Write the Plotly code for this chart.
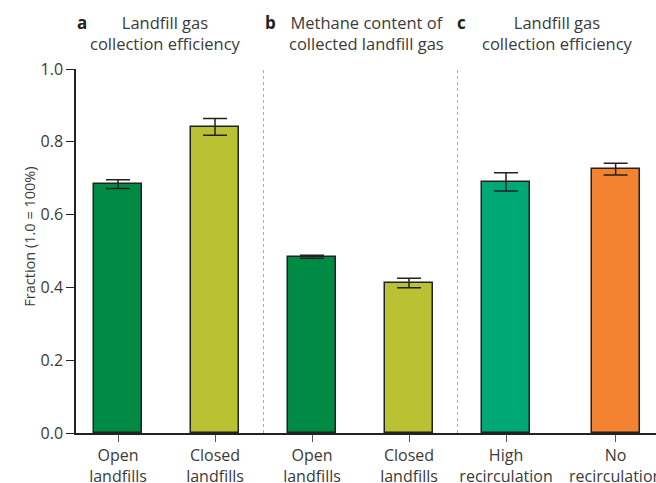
import plotly.graph_objects as go

# Data
categories = ["Open<br>landfills", "Closed<br>landfills", "Open<br>landfills",
              "Closed<br>landfills", "High<br>recirculation", "No<br>recirculation"]
values = [0.684, 0.841, 0.484, 0.412, 0.690, 0.725]
errors = [0.012, 0.023, 0.004, 0.013, 0.025, 0.016]
panel_letters = ["a", "b", "c"]
panel_titles = ["Landfill gas<br>collection efficiency",
                "Methane content of<br>collected landfill gas",
                "Landfill gas<br>collection efficiency"]
y_title = "Fraction (1.0 = 100%)"

# Layout (positions / styles)
xpos = [0, 1, 2, 3, 4, 5.13]
colors = ["#008A44", "#BAC132", "#008A44", "#BAC132", "#00A878", "#F38231"]
separators = [1.5, 3.5]
panel_centers = [0.155, 0.5, 0.831]   # paper coords
letter_x = [-0.002, 0.322, 0.653]     # paper coords

FONT = "Open Sans"
TXT = "#3a3a3a"

fig = go.Figure()
fig.add_trace(go.Bar(
    x=xpos, y=values, width=0.495,
    marker=dict(color=colors, line=dict(color="#222222", width=1.5)),
    error_y=dict(type="data", array=errors, visible=True, color="#222222",
                 thickness=1.5, width=12),
    showlegend=False, hoverinfo="skip",
))

for s in separators:
    fig.add_shape(type="line", x0=s, x1=s, y0=0, y1=1, xref="x", yref="y",
                  line=dict(color="#AAAAAA", width=1, dash="dot"))

for L, t, c, lx in zip(panel_letters, panel_titles, panel_centers, letter_x):
    fig.add_annotation(x=c, y=1.0, xref="paper", yref="paper", yshift=60,
                       text=t, showarrow=False, yanchor="top", xanchor="center",
                       font=dict(family=FONT, size=16.5, color=TXT))
    fig.add_annotation(x=lx, y=1.0, xref="paper", yref="paper", yshift=60,
                       text="<b>" + L + "</b>", showarrow=False, yanchor="top",
                       xanchor="left",
                       font=dict(family=FONT, size=17, color="#222222"))

fig.add_annotation(x=0, y=0.538, xref="paper", yref="paper", xshift=-58,
                   text=y_title, textangle=-90, showarrow=False,
                   font=dict(family=FONT, size=14.5, color=TXT))

fig.update_layout(
    width=656, height=483,
    margin=dict(l=76, r=0, t=69, b=50),
    plot_bgcolor="white", paper_bgcolor="white",
    font=dict(family=FONT, size=16, color=TXT),
    bargap=0,
)
fig.update_xaxes(
    range=[-0.433, 5.546], tickmode="array", tickvals=xpos, ticktext=categories,
    showline=True, linecolor="#222222", linewidth=1.5, ticks="outside",
    ticklen=7, tickcolor="#555555", tickwidth=1, showgrid=False, zeroline=False,
    tickfont=dict(family=FONT, size=16, color=TXT), automargin=False,
    ticklabeloverflow="allow",
)
fig.update_yaxes(
    range=[0, 1.0], tickmode="array", tickvals=[0, 0.2, 0.4, 0.6, 0.8, 1.0],
    tickformat=".1f", showline=True, linecolor="#222222", linewidth=1.5,
    ticks="outside", ticklen=8, tickcolor="#222222", showgrid=False, zeroline=False,
    tickfont=dict(family=FONT, size=16, color=TXT), automargin=False,
)

fig.write_html("out.html", config={"displayModeBar": False},
               post_script="document.body.style.margin='0';")
